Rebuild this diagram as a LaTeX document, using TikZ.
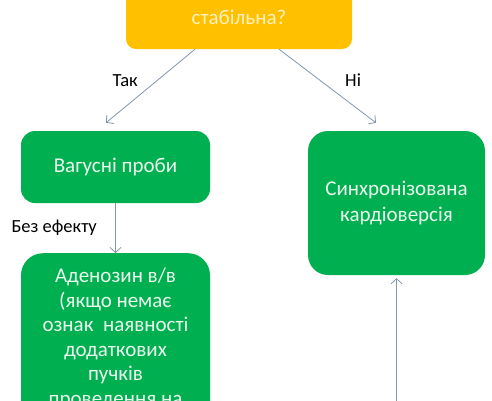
\documentclass[tikz,border=0pt]{standalone}
\usepackage{fontspec}
\setmainfont{Carlito}
\usetikzlibrary{arrows, arrows.meta, positioning}
\definecolor{askyellow}{HTML}{FFC000}
\definecolor{actgreen}{HTML}{00B050}
\definecolor{linkgray}{HTML}{8496B0}
\definecolor{asktext}{HTML}{FFF0C0}
\definecolor{acttext}{HTML}{EAF8EE}

\begin{document}
\begin{tikzpicture}[x=1pt,y=1pt,auto,font=\fontsize{21pt}{25.5pt}\selectfont]
    \tikzstyle{ask}=[shape=rectangle,rounded corners=10pt,fill=askyellow,text=asktext,minimum width=226pt,inner ysep=0pt]
    \tikzstyle{act}=[shape=rectangle,rounded corners=14pt,fill=actgreen,text=acttext,align=center,minimum width=189pt]
    \tikzstyle{link}=[-{Straight Barb[length=5pt,width=11pt]},draw=linkgray,line width=0.8pt]
    \tikzstyle{note}=[font=\fontsize{18.5pt}{22pt}\selectfont,text=black]

    \fill[white] (0,0) rectangle (492,-400);
    \useasboundingbox (0,0) rectangle (492,-400);
    \clip (0,0) rectangle (492,-400);

    \node[ask, text height=50pt, text depth=25pt, anchor=base] (Q) at (239,-24) {стабільна?};
    \node[act, minimum height=72pt] (V) at (115.5,-167) {Вагусні проби};
    \node[act, rounded corners=20pt, minimum width=177pt, minimum height=144pt] (K) at (396.5,-203) {Синхронізована\\кардіоверсія};
    \node[act, rounded corners=22pt, anchor=north, inner ysep=15pt, font=\fontsize{21pt}{24.5pt}\selectfont] (A) at (115.5,-253)
        {Аденозин в/в\\(якщо немає\\ознак\ \ наявності\\додаткових\\пучків\\проведення на};
    \coordinate (E) at (396.5,-430);

    \path[link]
    ([xshift=-44pt]Q.south) edge[swap] node[note,xshift=-9pt,yshift=-4pt] {Так} ([xshift=-9.5pt,yshift=8pt]V.north)
    ([xshift=40pt]Q.south) edge node[note,xshift=14pt,yshift=-4pt] {Ні} ([xshift=-20.5pt,yshift=8pt]K.north)
    (V) edge[swap] node[note,xshift=-15pt] {Без ефекту} (A)
    (E) edge[shorten >=3pt] (K)
    ;

\end{tikzpicture}
\end{document}
